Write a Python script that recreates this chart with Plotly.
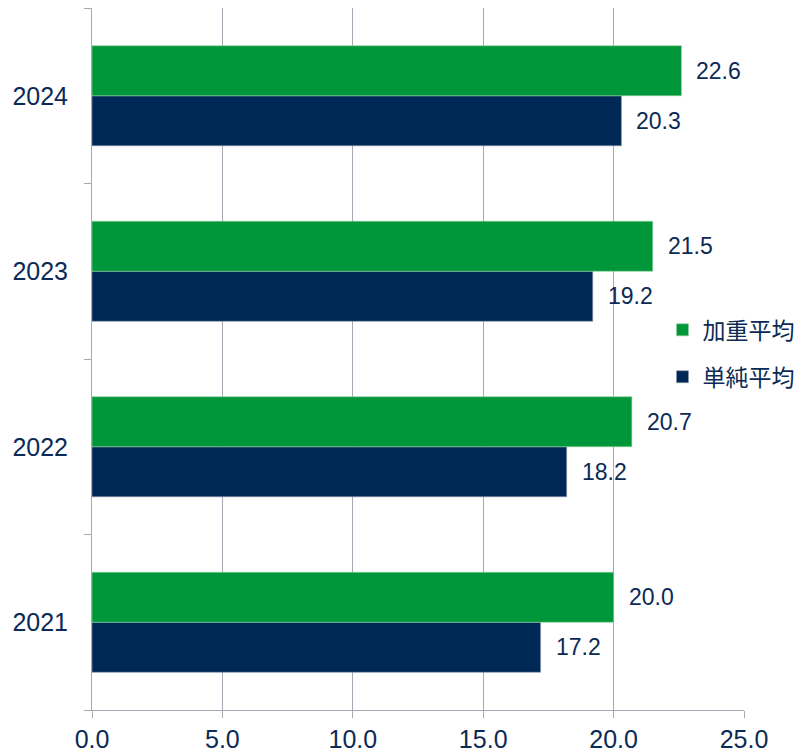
import plotly.graph_objects as go

years = ["2021", "2022", "2023", "2024"]
simple_avg = [17.2, 18.2, 19.2, 20.3]
weighted_avg = [20.0, 20.7, 21.5, 22.6]
name_simple = "単純平均"
name_weighted = "加重平均"

navy = "#002856"
green = "#00963A"
text_col = "#0B2A55"
grid_col = "#A8A8B4"
font_fam = "Liberation Sans, Arial, Noto Sans CJK JP"

fig = go.Figure()
fig.add_trace(go.Bar(
    y=years, x=simple_avg, name=name_simple, orientation="h",
    marker=dict(color=navy, line=dict(color="#8C97AA", width=0.6)),
    legendgroup="s", legendrank=2,
))
fig.add_trace(go.Bar(
    y=years, x=weighted_avg, name=name_weighted, orientation="h",
    marker=dict(color=green, line=dict(color="#8FD3A0", width=0.6)),
    legendgroup="w", legendrank=1,
))

# value labels (y given as category index)
for tr_idx, vals in enumerate([simple_avg, weighted_avg]):
    for i, v in enumerate(vals):
        fig.add_annotation(
            x=v, y=i, text=f"{v:.1f}", showarrow=False,
            xanchor="left", xshift=13,
            yshift=-25 if tr_idx == 0 else 25,
            font=dict(size=23, color=text_col, family=font_fam),
        )

# page body has an 8px offset: compensate in size/margins
fig.update_layout(
    width=799, height=748,
    margin=dict(l=84, r=63, t=0, b=46, autoexpand=False),
    paper_bgcolor="white", plot_bgcolor="white",
    barmode="group", bargap=0.43, bargroupgap=0,
    font=dict(family=font_fam, color=text_col, size=22),
    legend=dict(
        x=0.875, xanchor="left", y=0.508, yanchor="middle",
        bgcolor="rgba(0,0,0,0)", tracegroupgap=14,
        traceorder="grouped",
        font=dict(size=23, color=text_col, family=font_fam),
        itemwidth=30,
    ),
    showlegend=True,
)
fig.update_xaxes(
    range=[0, 25], dtick=5, tickformat=".1f",
    showgrid=True, gridcolor=grid_col, gridwidth=1,
    showline=True, linecolor=grid_col, linewidth=1,
    ticks="outside", ticklen=7, tickcolor=grid_col,
    zeroline=False, automargin=False,
    tickfont=dict(size=25, color=text_col),
)
fig.update_yaxes(
    type="category",
    categoryorder="array", categoryarray=years,
    range=[-0.5, 3.5], autorange=False,
    showline=True, linecolor=grid_col, linewidth=1,
    ticks="outside", ticklen=7, tickcolor=grid_col, tickson="boundaries",
    showgrid=False, automargin=False,
    tickfont=dict(size=25, color=text_col),
    ticklabelstandoff=18,
)

fig.write_html("out.html")
